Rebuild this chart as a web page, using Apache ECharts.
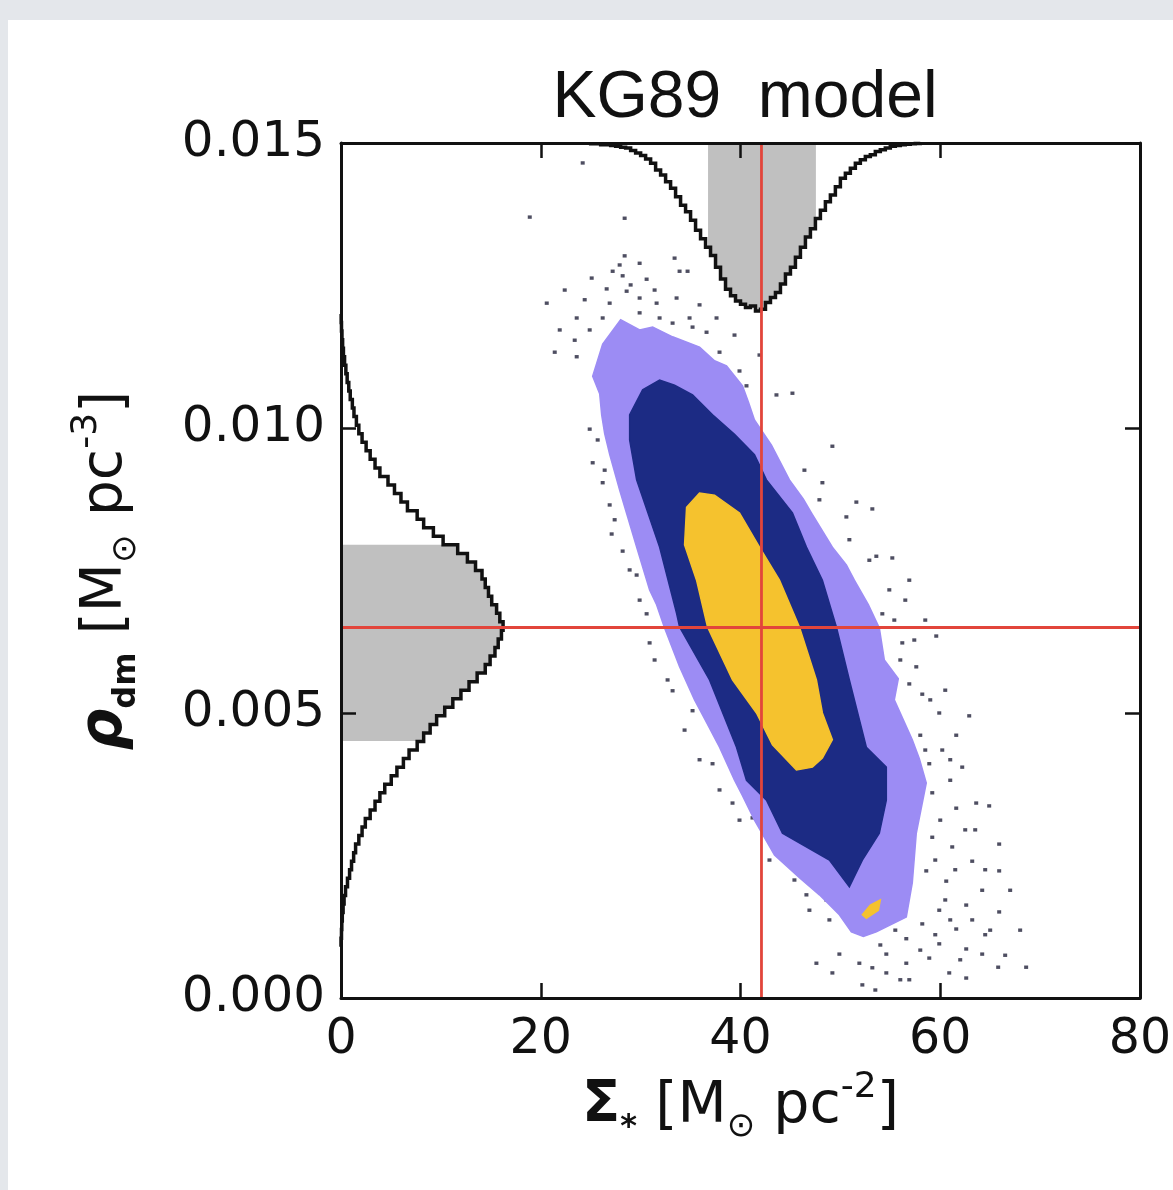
<!DOCTYPE html>
<html><head><meta charset="utf-8">
<script src="https://cdn.jsdelivr.net/npm/echarts@6/dist/echarts.min.js"></script>
<style>
html,body{margin:0;padding:0;background:#e4e7eb;overflow:hidden;}
#paper{position:absolute;left:8px;top:20px;width:1165px;height:1170px;background:#fff;}
#chart{position:absolute;left:0;top:0;width:1173px;height:1190px;}
</style></head><body>
<div id="paper"></div><div id="chart"></div>
<script>
// ---------------- data ----------------
const chartTitle = 'KG89  model';
const xAxisTicks = [0, 20, 40, 60, 80];
const yAxisTicks = [0, 0.005, 0.010, 0.015];
const bestSigma = 42.1;
const bestRho = 0.0065;

// credible regions [Sigma*, rho_dm]
const outerRegion = [[29.9,0.01172],[28.0,0.01190],[26.2,0.01147],[25.2,0.01091],[25.9,0.01060],[26.1,0.01023],[26.4,0.00990],[26.9,0.00954],[27.9,0.00891],[28.6,0.00850],[29.6,0.00791],[30.9,0.00716],[31.6,0.00690],[32.4,0.00649],[33.9,0.00581],[35.4,0.00523],[36.4,0.00490],[37.9,0.00440],[39.4,0.00382],[40.2,0.00355],[41.4,0.00312],[43.4,0.00251],[45.9,0.00211],[47.9,0.00181],[49.9,0.00146],[51.1,0.00116],[52.3,0.00108],[53.6,0.00116],[56.6,0.00142],[57.2,0.00202],[57.6,0.00289],[58.6,0.00377],[57.9,0.00420],[57.2,0.00453],[55.4,0.00523],[55.8,0.00560],[54.4,0.00593],[53.9,0.00649],[52.8,0.00690],[51.4,0.00733],[50.6,0.00760],[49.2,0.00791],[47.1,0.00851],[46.3,0.00875],[44.9,0.00909],[43.1,0.00970],[41.4,0.01014],[40.8,0.01045],[40.2,0.01074],[38.6,0.01109],[37.4,0.01118],[35.9,0.01142],[33.2,0.01160],[31.2,0.01177]];
const middleRegion = [[28.9,0.01023],[30.2,0.01067],[31.9,0.01084],[33.4,0.01075],[35.2,0.01058],[37.2,0.01023],[39.4,0.00989],[41.4,0.00953],[42.6,0.00909],[45.2,0.00851],[46.6,0.00791],[48.2,0.00733],[49.6,0.00651],[50.9,0.00558],[52.6,0.00440],[54.6,0.00405],[54.6,0.00347],[53.9,0.00289],[52.2,0.00242],[50.9,0.00195],[48.9,0.00242],[44.2,0.00289],[42.6,0.00347],[40.6,0.00382],[39.6,0.00440],[36.9,0.00558],[33.9,0.00651],[33.6,0.00675],[31.9,0.00791],[29.6,0.00909],[28.9,0.00979]];
const innerRegion = [[35.9,0.00886],[34.6,0.00861],[34.4,0.00795],[35.6,0.00733],[36.7,0.00651],[39.2,0.00558],[41.6,0.00500],[43.2,0.00444],[45.6,0.00400],[47.2,0.00405],[48.2,0.00421],[49.2,0.00453],[48.2,0.00500],[47.6,0.00558],[45.9,0.00651],[43.9,0.00733],[41.9,0.00791],[39.9,0.00851],[37.4,0.00882]];
const innerIsland = [[52.2,0.00146],[53.0,0.00163],[54.0,0.00172],[53.8,0.00154],[52.6,0.00140]];

// individual samples outside the regions
const outlierPoints = [[24.2,0.01465],[18.9,0.01370],[28.4,0.01368],[28.4,0.01302],[33.4,0.01298],[29.9,0.01289],[25.1,0.01263],[27.9,0.01286],[27.2,0.01275],[33.9,0.01275],[34.7,0.01275],[33.6,0.01228],[37.6,0.01193],[28.2,0.01267],[30.6,0.01261],[26.6,0.01244],[28.6,0.01240],[29.9,0.01228],[20.6,0.01219],[26.9,0.01219],[31.6,0.01219],[23.6,0.01193],[26.2,0.01193],[29.9,0.01202],[21.4,0.01133],[23.6,0.01125],[24.9,0.01172],[33.2,0.01184],[35.2,0.01177],[36.6,0.01168],[37.9,0.01133],[39.9,0.01100],[40.6,0.01074],[43.6,0.01058],[45.2,0.01061],[24.9,0.00998],[25.2,0.00939],[26.2,0.00904],[26.9,0.00865],[27.1,0.00814],[28.2,0.00784],[29.6,0.00742],[30.6,0.00674],[30.9,0.00623],[33.2,0.00539],[35.2,0.00504],[37.2,0.00411],[39.2,0.00342],[41.2,0.00316],[49.2,0.00968],[48.2,0.00904],[51.6,0.00870],[53.2,0.00858],[50.6,0.00844],[55.2,0.00772],[53.6,0.00775],[56.9,0.00733],[54.2,0.00674],[59.6,0.00635],[56.2,0.00623],[57.6,0.00581],[56.9,0.00551],[58.2,0.00533],[59.9,0.00500],[62.9,0.00495],[61.6,0.00461],[60.2,0.00435],[58.9,0.00411],[62.2,0.00405],[59.2,0.00360],[61.6,0.00333],[63.6,0.00342],[64.9,0.00337],[59.2,0.00282],[61.2,0.00265],[63.2,0.00240],[65.9,0.00270],[58.6,0.00223],[60.6,0.00205],[64.2,0.00189],[62.6,0.00163],[59.9,0.00154],[65.9,0.00151],[58.2,0.00130],[61.6,0.00121],[63.2,0.00137],[56.6,0.00104],[59.9,0.00095],[62.6,0.00086],[54.6,0.00077],[56.6,0.00061],[58.9,0.00070],[60.9,0.00044],[62.6,0.00035],[54.6,0.00044],[53.2,0.00053],[51.9,0.00061],[49.9,0.00077],[47.6,0.00061],[48.9,0.00137],[48.6,0.00172],[46.6,0.00181],[64.2,0.00077],[65.9,0.00223],[68.6,0.00054],[65.8,0.00054],[52.2,0.00023],[56.9,0.00032],[49.2,0.00044],[56.5,0.00698],[58.5,0.00663],[56.0,0.00593],[60.5,0.00540],[58.0,0.00461],[61.0,0.00382],[62.5,0.00295],[67.0,0.00189],[68.0,0.00119],[64.5,0.00111],[56.0,0.00032],[53.5,0.00014],
  [22.4,0.01242],[24.4,0.01225],[29.0,0.01251],[31.4,0.01242],[35.9,0.01216],[34.9,0.01193],[31.9,0.01193],[21.9,0.01172],[23.4,0.01154],[39.4,0.01163],[41.9,0.01128],
  [54.0,0.00093],[55.5,0.00119],[58.0,0.00084],[59.5,0.00111],[61.0,0.00137],[65.0,0.00119],[66.5,0.00075],[62.0,0.00067],[60.5,0.00172],[59.5,0.00242],[61.5,0.00225],[64.5,0.00225],[60.0,0.00312],[63.5,0.00295],[58.5,0.00435],[61.0,0.00418],[59.0,0.00523],[57.4,0.00628],[55.4,0.00663],[54.9,0.00716],[52.9,0.00768],[50.9,0.00804],[47.9,0.00874],[46.4,0.00926],
  [25.7,0.00979],[26.4,0.00926],[27.4,0.00839],[28.9,0.00751],[29.9,0.00698],[31.4,0.00593],[32.7,0.00558],[34.4,0.00470],[35.9,0.00418],[37.9,0.00365],[39.9,0.00312],[42.9,0.00242],[45.4,0.00207],[46.9,0.00154]];

// marginal histogram of Sigma* (normalised to peak = 1)
const sigmaBinStart = 25.0;
const sigmaBinWidth = 0.5;
const sigmaHist = [0.005,0.005,0.01,0.01,0.015,0.02,0.025,0.03,0.045,0.06,
  0.075,0.095,0.12,0.16,0.19,0.23,0.27,0.32,0.37,0.41,
  0.46,0.52,0.57,0.62,0.67,0.74,0.81,0.87,0.91,0.94,
  0.96,0.98,0.97,1.00,0.99,0.95,0.92,0.89,0.84,0.78,
  0.74,0.68,0.62,0.56,0.51,0.45,0.40,0.35,0.31,0.26,
  0.21,0.18,0.15,0.12,0.10,0.08,0.07,0.05,0.04,0.03,
  0.02,0.015,0.01,0.008,0.005,0.003];
const sigmaShade = [36.75, 47.55];

// marginal histogram of rho_dm (normalised to peak = 1)
const rhoBinStart = 0.0009;
const rhoBinWidth = 0.00015;
const rhoHist = [0,0.003,0.005,0.008,0.013,0.019,0.028,0.04,0.053,0.065,
  0.078,0.09,0.11,0.13,0.15,0.18,0.21,0.24,0.27,0.31,
  0.345,0.385,0.42,0.47,0.51,0.55,0.59,0.64,0.69,0.74,
  0.79,0.84,0.89,0.92,0.95,0.97,0.99,1.00,0.98,0.96,
  0.93,0.91,0.89,0.87,0.83,0.78,0.72,0.63,0.57,0.51,
  0.47,0.41,0.37,0.33,0.29,0.24,0.21,0.18,0.155,0.13,
  0.11,0.095,0.08,0.07,0.057,0.048,0.038,0.03,0.022,0.015,
  0.01,0.006,0.003,0.001];
const rhoShade = [0.00451, 0.00795];

// ---------------- chart ----------------
const FONT = 'DejaVu Sans';
const INK = '#111';
const GRID = { left: 341, top: 143, width: 799, height: 855 };
const xMin = xAxisTicks[0], xMax = xAxisTicks[xAxisTicks.length - 1];
const yMin = yAxisTicks[0], yMax = yAxisTicks[yAxisTicks.length - 1];
const xInt = xAxisTicks[1] - xAxisTicks[0], yInt = yAxisTicks[1] - yAxisTicks[0];

function frameAxis(extra) {
  return Object.assign({
    type: 'value', gridIndex: 0, z: 50,
    axisLine: { show: true, onZero: false, lineStyle: { color: INK, width: 3 } },
    axisTick: { show: true, inside: true, length: 15, lineStyle: { color: INK, width: 2.5 } },
    splitLine: { show: false }
  }, extra);
}

function polySeries(pts, color, z) {
  return {
    type: 'custom', xAxisIndex: 0, yAxisIndex: 0, z: z, silent: true,
    data: pts,
    renderItem: function (params, api) {
      if (params.dataIndex !== 0) return null;
      return { type: 'polygon', shape: { points: pts.map(p => api.coord(p)) },
        style: { fill: color, stroke: color, lineWidth: 1.5 } };
    }
  };
}

function histOutline(hist, start, width, toPt, api) {
  const pts = [api.coord(toPt(start, 0))];
  hist.forEach((v, i) => {
    const l = start + i * width, r = l + width;
    pts.push(api.coord(toPt(l, v)), api.coord(toPt(r, v)));
  });
  pts.push(api.coord(toPt(start + hist.length * width, 0)));
  return pts;
}
function histShade(hist, start, width, lo, hi, toPt, api) {
  const pts = [api.coord(toPt(lo, 0))];
  hist.forEach((v, i) => {
    const l = start + i * width, r = l + width;
    if (r <= lo || l >= hi) return;
    pts.push(api.coord(toPt(Math.max(l, lo), v)), api.coord(toPt(Math.min(r, hi), v)));
  });
  pts.push(api.coord(toPt(hi, 0)));
  return pts;
}
const topPt = (s, v) => [s, v];
const leftPt = (r, v) => [v, r];

const nameRich = {
  t: { fontFamily: FONT, fontSize: 57, color: INK, lineHeight: 74 },
  sun: { fontFamily: FONT, fontSize: 34, color: INK, verticalAlign: 'bottom', lineHeight: 34 },
  sup: { fontFamily: FONT, fontSize: 36, color: INK, verticalAlign: 'top', lineHeight: 36 }
};

const option = {
  animation: false,
  title: {
    text: chartTitle, left: 740, top: 61, textAlign: 'center',
    textStyle: { fontFamily: 'Liberation Sans', fontSize: 66, fontWeight: 'normal', color: INK }
  },
  grid: [
    Object.assign({ outerBoundsMode: 'none', containLabel: false }, GRID),
    Object.assign({ outerBoundsMode: 'none', containLabel: false }, GRID),
    Object.assign({ outerBoundsMode: 'none', containLabel: false }, GRID)
  ],
  xAxis: [
    frameAxis({
      position: 'bottom', min: xMin, max: xMax, interval: xInt,
      axisLabel: { show: true, margin: 18, fontFamily: FONT, fontSize: 49, color: INK },
      name: '{S|Σ}{st|*} {t|[M}{sun|⊙}{t| pc}{sup|-2}{t|]}',
      nameLocation: 'middle', nameGap: 66,
      nameTextStyle: {
        fontFamily: FONT, fontSize: 57, color: INK,
        rich: Object.assign({
          S: { fontFamily: FONT, fontSize: 56, fontWeight: 'bold', color: INK, lineHeight: 74 },
          st: { fontFamily: FONT, fontSize: 32, fontWeight: 'bold', color: INK, verticalAlign: 'bottom', lineHeight: 32 }
        }, nameRich)
      }
    }),
    frameAxis({ position: 'top', min: xMin, max: xMax, interval: xInt, axisLabel: { show: false } }),
    { type: 'value', gridIndex: 1, min: xMin, max: xMax, show: false },
    { type: 'value', gridIndex: 2, min: 0, max: 4.93, show: false }
  ],
  yAxis: [
    frameAxis({
      position: 'left', min: yMin, max: yMax, interval: yInt,
      axisLabel: { show: true, margin: 16, fontFamily: FONT, fontSize: 50, color: INK,
        formatter: v => v.toFixed(3) },
      name: '{r|ρ}{d|dm} {t|[M}{sun|⊙}{t| pc}{sup|-3}{t|]}',
      nameLocation: 'middle', nameGap: 198, nameRotate: 90,
      nameTextStyle: {
        fontFamily: FONT, fontSize: 57, color: INK,
        rich: Object.assign({
          r: { fontFamily: FONT, fontSize: 58, fontWeight: 'bold', fontStyle: 'italic', color: INK, lineHeight: 74 },
          d: { fontFamily: FONT, fontSize: 32, fontWeight: 'bold', color: INK, verticalAlign: 'bottom', lineHeight: 32 }
        }, nameRich)
      }
    }),
    frameAxis({ position: 'right', min: yMin, max: yMax, interval: yInt, axisLabel: { show: false } }),
    { type: 'value', gridIndex: 1, min: 0, max: 5.09, inverse: true, show: false },
    { type: 'value', gridIndex: 2, min: yMin, max: yMax, show: false }
  ],
  series: [
    {
      type: 'scatter', xAxisIndex: 0, yAxisIndex: 0, z: 2, silent: true,
      symbol: 'rect', symbolSize: [4, 3.4],
      itemStyle: { color: '#22223a' },
      data: outlierPoints
    },
    polySeries(outerRegion, '#9c8cf4', 3),
    polySeries(middleRegion, '#1c2b84', 4),
    polySeries(innerRegion, '#f5c22e', 5),
    polySeries(innerIsland, '#f5c22e', 5),
    {
      type: 'custom', xAxisIndex: 2, yAxisIndex: 2, z: 6, silent: true,
      data: sigmaHist.map((v, i) => [sigmaBinStart + (i + 0.5) * sigmaBinWidth, v]),
      renderItem: function (params, api) {
        if (params.dataIndex !== 0) return null;
        return { type: 'group', children: [
          { type: 'polygon', shape: { points: histShade(sigmaHist, sigmaBinStart, sigmaBinWidth, sigmaShade[0], sigmaShade[1], topPt, api) },
            style: { fill: '#c0c0c0' } },
          { type: 'polyline', shape: { points: histOutline(sigmaHist, sigmaBinStart, sigmaBinWidth, topPt, api) },
            style: { stroke: INK, lineWidth: 3.5, fill: null } }
        ] };
      }
    },
    {
      type: 'custom', xAxisIndex: 3, yAxisIndex: 3, z: 6, silent: true,
      data: rhoHist.map((v, i) => [v, rhoBinStart + (i + 0.5) * rhoBinWidth]),
      renderItem: function (params, api) {
        if (params.dataIndex !== 0) return null;
        return { type: 'group', children: [
          { type: 'polygon', shape: { points: histShade(rhoHist, rhoBinStart, rhoBinWidth, rhoShade[0], rhoShade[1], leftPt, api) },
            style: { fill: '#c0c0c0' } },
          { type: 'polyline', shape: { points: histOutline(rhoHist, rhoBinStart, rhoBinWidth, leftPt, api) },
            style: { stroke: INK, lineWidth: 3.5, fill: null } }
        ] };
      }
    },
    {
      type: 'line', xAxisIndex: 0, yAxisIndex: 0, z: 9, silent: true, symbol: 'none',
      lineStyle: { color: '#e2453b', width: 2.8 },
      data: [[bestSigma, yMin], [bestSigma, yMax]]
    },
    {
      type: 'line', xAxisIndex: 0, yAxisIndex: 0, z: 9, silent: true, symbol: 'none',
      lineStyle: { color: '#e2453b', width: 2.8 },
      data: [[xMin, bestRho], [xMax, bestRho]]
    }
  ]
};

const chart = echarts.init(document.getElementById('chart'), null, { renderer: 'canvas' });
chart.setOption(option);
</script>
</body></html>
